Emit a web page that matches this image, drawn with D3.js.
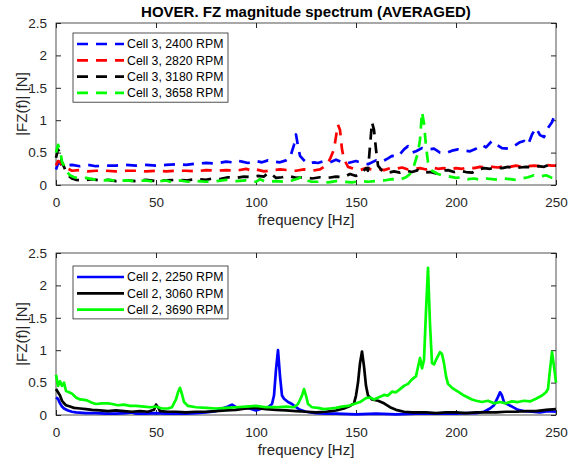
<!DOCTYPE html>
<html>
<head>
  <title>HOVER FZ spectrum</title>
  <script src="https://d3js.org/d3.v7.min.js"></script>
  <style>
    body { margin: 0; background: #fff; }
    svg text { font-family: "Liberation Sans", Arial, sans-serif; fill: #262626; }
    .axis .domain { display: none; }
    .axis line { stroke: #262626; }
  </style>
</head>
<body>
<svg id="chart" width="580" height="464"></svg>
<script>
  // tick labels
  const xTicks = [0, 50, 100, 150, 200, 250];
  const yTicks = [0, 0.5, 1, 1.5, 2, 2.5];

  // top panel: Cell 3, [frequency Hz, |FZ| N]
  const topNames = ["Cell 3, 2400 RPM", "Cell 3, 2820 RPM", "Cell 3, 3180 RPM", "Cell 3, 3658 RPM"];
  const topColors = ["#0000ff", "#ff0000", "#000000", "#00ff00"];

  const cell3_2400 = [[0,0.24],[1,0.33],[2,0.34],[3,0.3],[5,0.3],[8,0.31],[12,0.29],[16,0.31],[20,0.29],[25,0.3],[30,0.3],[35,0.31],[40,0.3],[45,0.31],[50,0.3],[55,0.31],[60,0.32],[65,0.31],[70,0.33],[75,0.34],[80,0.33],[85,0.36],[88,0.35],[90,0.38],[93,0.36],[96,0.34],[100,0.37],[103,0.35],[106,0.38],[109,0.36],[112,0.35],[115,0.38],[117,0.42],[119,0.62],[120,0.78],[121,0.6],[122,0.45],[124,0.38],[126,0.33],[129,0.35],[131,0.34],[134,0.37],[137,0.35],[140,0.39],[143,0.35],[146,0.34],[150,0.37],[153,0.34],[156,0.32],[160,0.38],[163,0.36],[166,0.41],[168,0.45],[171,0.44],[174,0.55],[176,0.6],[178,0.5],[180,0.52],[183,0.57],[186,0.55],[189,0.56],[192,0.5],[195,0.49],[198,0.53],[201,0.55],[204,0.53],[207,0.52],[210,0.56],[213,0.62],[215,0.58],[218,0.68],[220,0.63],[223,0.57],[226,0.56],[229,0.6],[232,0.66],[234,0.68],[236,0.62],[238,0.78],[240,0.88],[242,0.77],[244,0.74],[246,0.88],[248,0.97],[249,1.05],[250,0.98]];
  const cell3_2820 = [[0,0.3],[1,0.37],[2,0.36],[3,0.3],[4,0.27],[6,0.25],[8,0.22],[12,0.23],[16,0.21],[20,0.22],[25,0.22],[30,0.21],[35,0.22],[40,0.22],[45,0.21],[50,0.22],[55,0.21],[60,0.22],[65,0.22],[70,0.21],[75,0.23],[80,0.22],[85,0.23],[90,0.22],[95,0.25],[98,0.22],[100,0.24],[104,0.21],[108,0.23],[112,0.24],[116,0.23],[120,0.22],[124,0.24],[128,0.22],[132,0.24],[135,0.3],[137,0.4],[139,0.55],[140,0.75],[141,0.93],[142,0.85],[143,0.55],[144,0.4],[146,0.28],[149,0.25],[152,0.23],[155,0.26],[158,0.24],[161,0.25],[164,0.23],[167,0.26],[170,0.25],[173,0.27],[176,0.24],[179,0.25],[182,0.26],[185,0.24],[188,0.27],[191,0.25],[194,0.26],[197,0.24],[200,0.26],[203,0.25],[206,0.27],[209,0.26],[212,0.28],[215,0.27],[218,0.28],[221,0.27],[224,0.29],[227,0.28],[230,0.3],[233,0.28],[236,0.29],[239,0.3],[242,0.29],[245,0.31],[248,0.3],[250,0.3]];
  const cell3_3180 = [[0,0.42],[1,0.55],[2,0.5],[3,0.35],[4,0.28],[5,0.2],[6,0.15],[8,0.1],[10,0.08],[14,0.07],[18,0.09],[22,0.07],[26,0.08],[30,0.06],[35,0.07],[40,0.06],[45,0.08],[50,0.06],[55,0.07],[60,0.08],[65,0.07],[70,0.09],[75,0.08],[78,0.1],[82,0.09],[86,0.12],[90,0.11],[94,0.13],[98,0.12],[101,0.14],[104,0.13],[106,0.19],[108,0.16],[110,0.11],[113,0.12],[116,0.14],[120,0.11],[124,0.12],[128,0.1],[132,0.12],[136,0.11],[140,0.13],[144,0.12],[147,0.17],[150,0.14],[153,0.19],[155,0.26],[156,0.22],[157,0.6],[158,0.97],[159,0.85],[160,0.55],[161,0.3],[163,0.22],[166,0.19],[169,0.21],[172,0.19],[175,0.22],[178,0.2],[181,0.23],[184,0.19],[187,0.2],[190,0.18],[193,0.22],[196,0.23],[199,0.2],[202,0.22],[205,0.2],[208,0.19],[211,0.24],[214,0.26],[217,0.25],[220,0.27],[223,0.26],[226,0.28],[229,0.26],[232,0.27],[235,0.28],[238,0.27],[241,0.29],[244,0.28],[247,0.32],[250,0.3]];
  const cell3_3658 = [[0,0.5],[1,0.62],[2,0.55],[3,0.35],[4,0.3],[5,0.22],[7,0.15],[9,0.12],[12,0.1],[15,0.11],[18,0.09],[21,0.08],[24,0.07],[27,0.08],[30,0.06],[35,0.07],[40,0.06],[45,0.07],[50,0.05],[55,0.07],[58,0.04],[62,0.07],[66,0.05],[70,0.06],[75,0.05],[80,0.06],[85,0.08],[90,0.06],[95,0.07],[100,0.05],[102,0.09],[105,0.05],[110,0.06],[115,0.05],[118,0.07],[121,0.1],[123,0.13],[125,0.07],[128,0.05],[132,0.05],[136,0.04],[140,0.06],[144,0.05],[148,0.04],[152,0.06],[156,0.05],[160,0.06],[164,0.07],[168,0.09],[172,0.08],[175,0.12],[177,0.17],[179,0.3],[181,0.5],[182,0.7],[183,1.13],[184,0.95],[185,0.6],[186,0.35],[188,0.22],[191,0.17],[194,0.14],[197,0.13],[200,0.11],[203,0.12],[206,0.09],[209,0.1],[212,0.08],[215,0.1],[218,0.09],[221,0.08],[224,0.1],[227,0.09],[230,0.08],[233,0.1],[236,0.12],[239,0.15],[242,0.13],[245,0.15],[248,0.11],[250,0.1]];

  // bottom panel: Cell 2
  const bottomNames = ["Cell 2, 2250 RPM", "Cell 2, 3060 RPM", "Cell 2, 3690 RPM"];
  const bottomColors = ["#0000ff", "#000000", "#00ff00"];

  const cell2_2250 = [[0,0.27],[1,0.25],[2,0.18],[3,0.13],[4,0.1],[6,0.07],[8,0.05],[10,0.04],[15,0.03],[20,0.03],[25,0.02],[30,0.02],[35,0.03],[38,0.04],[40,0.02],[45,0.02],[50,0.03],[55,0.02],[60,0.02],[65,0.02],[70,0.03],[75,0.04],[80,0.06],[83,0.1],[86,0.13],[88,0.16],[90,0.12],[93,0.1],[96,0.11],[100,0.07],[103,0.1],[106,0.12],[108,0.17],[109,0.3],[110,0.7],[111,1.0],[112,0.6],[113,0.3],[114,0.25],[116,0.2],[118,0.17],[120,0.12],[122,0.08],[125,0.05],[130,0.03],[135,0.02],[140,0.02],[150,0.01],[160,0.02],[170,0.01],[180,0.02],[190,0.02],[200,0.02],[205,0.03],[210,0.03],[214,0.05],[217,0.1],[219,0.15],[221,0.28],[222,0.35],[223,0.3],[224,0.2],[226,0.16],[228,0.13],[231,0.08],[234,0.06],[238,0.05],[242,0.04],[246,0.06],[250,0.05]];
  const cell2_3060 = [[0,0.4],[1,0.35],[2,0.3],[3,0.22],[4,0.18],[5,0.15],[7,0.13],[9,0.11],[12,0.1],[15,0.09],[18,0.08],[22,0.07],[26,0.06],[30,0.07],[34,0.06],[38,0.05],[42,0.06],[46,0.05],[49,0.08],[50,0.16],[51,0.12],[52,0.06],[56,0.05],[60,0.05],[65,0.04],[70,0.05],[75,0.05],[80,0.06],[85,0.07],[90,0.08],[95,0.1],[100,0.11],[105,0.09],[110,0.08],[115,0.07],[120,0.06],[125,0.05],[130,0.04],[135,0.05],[140,0.07],[144,0.1],[147,0.14],[149,0.18],[150,0.3],[151,0.5],[152,0.8],[153,0.98],[154,0.75],[155,0.45],[156,0.3],[158,0.24],[161,0.22],[164,0.18],[167,0.12],[170,0.08],[174,0.05],[178,0.04],[185,0.04],[190,0.03],[195,0.04],[200,0.04],[205,0.03],[210,0.04],[215,0.04],[220,0.04],[225,0.05],[230,0.05],[235,0.06],[240,0.06],[245,0.08],[250,0.09]];
  const cell2_3690 = [[0,0.62],[1,0.45],[2,0.52],[3,0.45],[4,0.5],[5,0.37],[6,0.36],[8,0.33],[10,0.27],[12,0.24],[15,0.23],[18,0.19],[20,0.17],[23,0.18],[26,0.18],[28,0.17],[31,0.15],[34,0.16],[37,0.14],[40,0.14],[44,0.13],[47,0.12],[50,0.13],[53,0.1],[56,0.1],[58,0.12],[60,0.24],[61,0.35],[62,0.42],[63,0.32],[64,0.2],[66,0.14],[70,0.12],[75,0.11],[80,0.1],[85,0.11],[90,0.12],[95,0.13],[100,0.14],[105,0.12],[110,0.12],[115,0.13],[119,0.12],[121,0.17],[123,0.3],[124,0.4],[125,0.3],[126,0.17],[128,0.12],[131,0.11],[134,0.09],[137,0.1],[140,0.11],[143,0.13],[146,0.14],[149,0.17],[152,0.2],[155,0.26],[157,0.27],[159,0.24],[162,0.28],[164,0.31],[166,0.3],[168,0.36],[170,0.35],[172,0.4],[174,0.45],[176,0.48],[178,0.55],[180,0.6],[181,0.74],[182,0.88],[183,0.72],[184,0.85],[185,1.6],[186,2.27],[187,1.4],[188,0.8],[189,0.78],[190,0.85],[192,0.97],[193,0.94],[194,0.8],[195,0.6],[196,0.48],[198,0.42],[200,0.38],[202,0.34],[204,0.3],[206,0.27],[208,0.24],[210,0.22],[213,0.2],[216,0.22],[219,0.18],[222,0.2],[225,0.18],[228,0.21],[231,0.2],[234,0.22],[237,0.21],[240,0.25],[243,0.3],[245,0.35],[246,0.4],[247,0.7],[248,0.97],[249,0.75],[250,0.5]];

  const svg = d3.select("#chart");

  const left = 56, right = 556;

  // title
  svg.append("text")
    .attr("x", (left + right) / 2)
    .attr("y", 17)
    .attr("text-anchor", "middle")
    .style("font-size", "15px")
    .style("font-weight", "bold")
    .style("fill", "#000")
    .text("HOVER. FZ magnitude spectrum (AVERAGED)");

  function drawPanel(top, bottom, series, names, colors, dashed, legendTop) {
    const x = d3.scaleLinear().domain([0, 250]).range([left, right]);
    const y = d3.scaleLinear().domain([0, 2.5]).range([bottom, top]);

    const g = svg.append("g");

    // axes, ticks pointing inward like matlab
    g.append("g").attr("class", "axis")
      .attr("transform", `translate(0,${bottom})`)
      .call(d3.axisBottom(x).tickValues(xTicks).tickSize(-5).tickPadding(10).tickFormat(d3.format("d")))
      .selectAll("text").style("font-size", "13.5px").attr("dy", "0.9em");
    g.append("g").attr("class", "axis")
      .attr("transform", `translate(0,${top})`)
      .call(d3.axisTop(x).tickValues(xTicks).tickSize(-5).tickFormat(""));
    g.append("g").attr("class", "axis")
      .attr("transform", `translate(${left},0)`)
      .call(d3.axisLeft(y).tickValues(yTicks).tickSize(-5).tickPadding(9).tickFormat(d => d3.format("")(d)))
      .selectAll("text").style("font-size", "13.5px");
    g.append("g").attr("class", "axis")
      .attr("transform", `translate(${right},0)`)
      .call(d3.axisRight(y).tickValues(yTicks).tickSize(-5).tickFormat(""));

    g.append("rect")
      .attr("x", left).attr("y", top)
      .attr("width", right - left).attr("height", bottom - top)
      .attr("fill", "none").attr("stroke", "#262626").attr("stroke-width", 0.8);

    // axis labels
    g.append("text")
      .attr("x", (left + right) / 2)
      .attr("y", bottom + 40)
      .attr("text-anchor", "middle")
      .style("font-size", "15px")
      .text("frequency [Hz]");
    g.append("text")
      .attr("transform", `translate(27,${(top + bottom) / 2}) rotate(-90)`)
      .attr("text-anchor", "middle")
      .style("font-size", "15px")
      .text("|FZ(f)| [N]");

    const line = d3.line().x(d => x(d[0])).y(d => y(d[1]));

    series.forEach((s, i) => {
      g.append("path")
        .datum(s)
        .attr("d", line)
        .attr("fill", "none")
        .attr("stroke", colors[i])
        .attr("stroke-width", 2.7)
        .attr("stroke-linejoin", "round")
        .attr("stroke-dasharray", dashed ? "11,8" : null);
    });

    // legend
    const rowH = 16.3;
    const lg = g.append("g");
    lg.append("rect")
      .attr("x", 73).attr("y", legendTop)
      .attr("width", 155).attr("height", names.length * rowH + 4)
      .attr("fill", "#fff").attr("stroke", "#262626").attr("stroke-width", 0.8);
    names.forEach((n, i) => {
      const yy = legendTop + 11 + i * rowH;
      lg.append("line")
        .attr("x1", 77).attr("x2", 124)
        .attr("y1", yy).attr("y2", yy)
        .attr("stroke", colors[i])
        .attr("stroke-width", 2.7)
        .attr("stroke-dasharray", dashed ? "11,8" : null);
      lg.append("text")
        .attr("x", 127).attr("y", yy)
        .attr("dy", "0.35em")
        .style("font-size", "12.3px")
        .style("fill", "#000")
        .text(n);
    });
  }

  drawPanel(23, 185, [cell3_2400, cell3_2820, cell3_3180, cell3_3658], topNames, topColors, true, 33);
  drawPanel(253, 415, [cell2_2250, cell2_3060, cell2_3690], bottomNames, bottomColors, false, 266);
</script>
</body>
</html>
